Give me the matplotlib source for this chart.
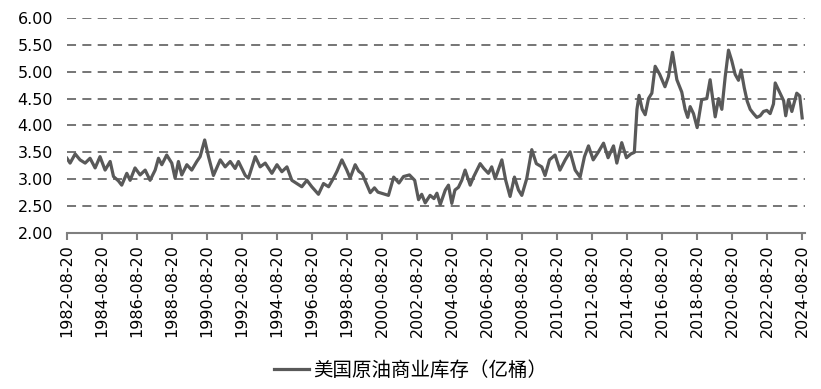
import numpy as np
import matplotlib
matplotlib.use("Agg")
from matplotlib import pyplot as plt

# US commercial crude inventory (1e8 barrels)
years = [
    1982.63, 1982.81, 1983.10, 1983.38, 1983.67, 1983.95, 1984.24, 1984.52, 1984.81,
    1985.10, 1985.29, 1985.57, 1985.76, 1986.05, 1986.24, 1986.52, 1986.81,
    1987.10, 1987.38, 1987.67, 1987.86, 1988.05, 1988.33, 1988.62, 1988.81,
    1989.00, 1989.19, 1989.48, 1989.76, 1990.05, 1990.24, 1990.50, 1990.72,
    1991.00, 1991.39, 1991.67, 1991.96, 1992.24, 1992.43, 1992.82, 1993.00,
    1993.39, 1993.67, 1993.96, 1994.34, 1994.63, 1994.91, 1995.20, 1995.48,
    1995.77, 1996.05, 1996.34, 1996.62, 1997.00, 1997.29, 1997.58, 1997.86,
    1998.05, 1998.34, 1998.62, 1998.81, 1999.10, 1999.30, 1999.50, 1999.70,
    1999.96, 2000.20, 2000.40, 2000.70, 2001.00, 2001.30, 2001.60, 2001.86,
    2002.20, 2002.50, 2002.72, 2002.90, 2003.10, 2003.38, 2003.60, 2003.77,
    2003.96, 2004.25, 2004.43, 2004.62, 2004.80, 2005.00, 2005.19, 2005.38,
    2005.67, 2005.86, 2006.24, 2006.45, 2006.71, 2006.90, 2007.10, 2007.48,
    2007.70, 2007.95, 2008.20, 2008.43, 2008.62, 2008.90, 2009.19, 2009.45,
    2009.76, 2009.95, 2010.20, 2010.52, 2010.80, 2011.10, 2011.38, 2011.67,
    2011.95, 2012.20, 2012.43, 2012.70, 2013.00, 2013.29, 2013.55, 2013.86,
    2014.05, 2014.33, 2014.60, 2014.85, 2015.05, 2015.20, 2015.32, 2015.50,
    2015.67, 2015.86, 2016.05, 2016.24, 2016.50, 2016.80, 2017.00, 2017.23,
    2017.48, 2017.76, 2017.95, 2018.10, 2018.24, 2018.43, 2018.64, 2018.90,
    2019.19, 2019.38, 2019.55, 2019.67, 2019.86, 2020.05, 2020.24, 2020.43,
    2020.62, 2020.81, 2021.00, 2021.15, 2021.33, 2021.50, 2021.67, 2021.86,
    2022.05, 2022.24, 2022.43, 2022.62, 2022.81, 2023.00, 2023.10, 2023.38,
    2023.58, 2023.70, 2023.86, 2024.05, 2024.33, 2024.50, 2024.64,
]
stocks = [
    3.39, 3.30, 3.47, 3.36, 3.30, 3.39, 3.21, 3.42, 3.17,
    3.33, 3.05, 2.97, 2.89, 3.11, 2.98, 3.21, 3.08,
    3.17, 2.98, 3.17, 3.39, 3.27, 3.45, 3.30, 3.02,
    3.33, 3.08, 3.27, 3.17, 3.33, 3.42, 3.73, 3.42,
    3.07, 3.36, 3.23, 3.33, 3.20, 3.33, 3.07, 3.02,
    3.42, 3.23, 3.30, 3.11, 3.27, 3.14, 3.23, 2.98,
    2.92, 2.86, 2.98, 2.86, 2.72, 2.92, 2.86, 3.02,
    3.14, 3.36, 3.17, 3.02, 3.27, 3.15, 3.10, 2.95,
    2.75, 2.84, 2.76, 2.73, 2.70, 3.04, 2.93, 3.05,
    3.08, 2.98, 2.62, 2.72, 2.56, 2.70, 2.64, 2.74,
    2.53, 2.80, 2.89, 2.55, 2.80, 2.85, 2.98, 3.17,
    2.89, 3.04, 3.29, 3.20, 3.11, 3.23, 3.01, 3.36,
    2.98, 2.68, 3.04, 2.80, 2.70, 3.01, 3.55, 3.29,
    3.23, 3.07, 3.36, 3.45, 3.17, 3.36, 3.51, 3.17,
    3.04, 3.42, 3.62, 3.36, 3.51, 3.67, 3.40, 3.62,
    3.30, 3.68, 3.40, 3.47, 3.50, 4.30, 4.56, 4.30,
    4.20, 4.50, 4.60, 5.10, 4.95, 4.72, 4.91, 5.36,
    4.85, 4.62, 4.30, 4.15, 4.35, 4.22, 3.96, 4.48,
    4.50, 4.85, 4.45, 4.16, 4.50, 4.30, 4.90, 5.40,
    5.20, 4.95, 4.84, 5.03, 4.70, 4.45, 4.30, 4.22,
    4.15, 4.18, 4.26, 4.28, 4.22, 4.40, 4.79, 4.60,
    4.46, 4.18, 4.48, 4.26, 4.60, 4.55, 4.14,
]

tick_labels = [f"{y}-08-20" for y in range(1982, 2025, 2)]
y_ticks = [2.0, 2.5, 3.0, 3.5, 4.0, 4.5, 5.0, 5.5, 6.0]
series_name = "美国原油商业库存（亿桶）"


def label_to_year(label):
    y = int(label.split("-")[0])
    day_of_year = (np.datetime64(label) - np.datetime64(f"{y}-01-01")).astype(int)
    return y + day_of_year / 365.0


plt.rcParams["font.family"] = ["DejaVu Sans"]

fig = plt.figure(figsize=(8.21, 3.89), dpi=100)
ax = fig.add_axes([0.0816, 0.401, 0.899, 0.553])

ax.plot(years, stocks, color="#595959", linewidth=2.3, label=series_name,
        solid_joinstyle="round")

ax.set_ylim(2.0, 6.0)
ax.set_yticks(y_ticks)
ax.set_yticklabels([f"{v:.2f}" for v in y_ticks], fontsize=11.5)
for v in y_ticks[1:]:
    ax.axhline(v, color="#6a6a6a", linewidth=1.3, linestyle=(0, (5, 3.5)), zorder=0)

tick_pos = [label_to_year(t) for t in tick_labels]
ax.set_xticks(tick_pos)
ax.set_xticklabels(tick_labels, rotation=90, fontsize=11.5)
ax.set_xlim(tick_pos[0], tick_pos[-1] + 0.17)

for side in ["top", "right", "left"]:
    ax.spines[side].set_visible(False)
ax.spines["bottom"].set_color("#7f7f7f")
ax.spines["bottom"].set_linewidth(1.5)
ax.tick_params(axis="x", direction="out", length=5, width=1.5, color="#7f7f7f", pad=3)
ax.tick_params(axis="y", length=0, pad=10)

fig.legend(loc="center", bbox_to_anchor=(0.5, 0.049), frameon=False,
           prop={"family": ["Noto Sans CJK SC", "DejaVu Sans"], "size": 14},
           handlelength=1.8, handletextpad=0.2)

fig.savefig("out.png", dpi=100)
